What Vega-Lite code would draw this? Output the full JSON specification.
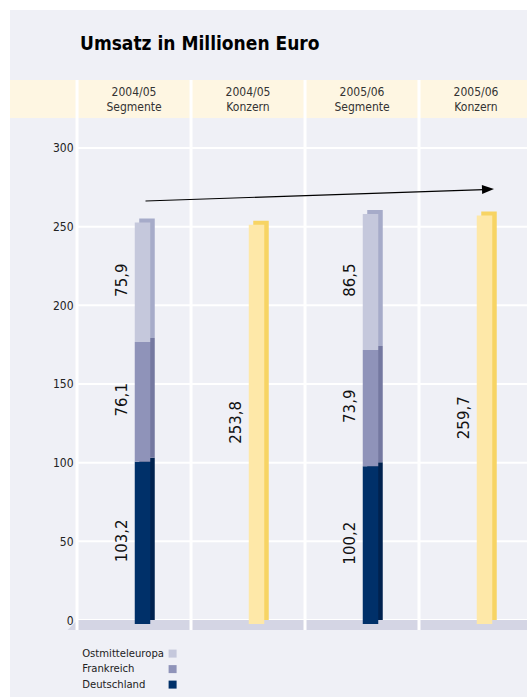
{
  "$schema": "https://vega.github.io/schema/vega-lite/v6.json",
  "autosize": {"type": "none"},
  "padding": {"left": 10, "top": 10, "right": 0, "bottom": 0},
  "width": 523,
  "height": 687,
  "background": "white",
  "config": {
    "view": {"fill": "#eff0f6", "stroke": null},
    "locale": {"number": {"decimal": ",", "thousands": ".", "grouping": [3], "currency": ["", " €"]}}
  },
  "title": {
    "text": "Umsatz in Millionen Euro",
    "anchor": "start",
    "frame": "group",
    "orient": "top",
    "offset": -59,
    "dx": 70,
    "baseline": "alphabetic",
    "font": "DejaVu Sans Condensed, Liberation Sans, sans-serif",
    "fontSize": 19,
    "fontWeight": "bold",
    "color": "#000000"
  },
  "datasets": {
    "cols": [
      {"col": "2004/05 Segmente"},
      {"col": "2004/05 Konzern"},
      {"col": "2005/06 Segmente"},
      {"col": "2005/06 Konzern"}
    ],
    "grid": [{"v": 0}, {"v": 50}, {"v": 100}, {"v": 150}, {"v": 200}, {"v": 250}, {"v": 300}],
    "sales": [
      {"col": "2004/05 Segmente", "region": "Deutschland", "order": 1, "value": 103.2},
      {"col": "2004/05 Segmente", "region": "Frankreich", "order": 2, "value": 76.1},
      {"col": "2004/05 Segmente", "region": "Ostmitteleuropa", "order": 3, "value": 75.9},
      {"col": "2004/05 Konzern", "region": "Konzern", "order": 1, "value": 253.8},
      {"col": "2005/06 Segmente", "region": "Deutschland", "order": 1, "value": 100.2},
      {"col": "2005/06 Segmente", "region": "Frankreich", "order": 2, "value": 73.9},
      {"col": "2005/06 Segmente", "region": "Ostmitteleuropa", "order": 3, "value": 86.5},
      {"col": "2005/06 Konzern", "region": "Konzern", "order": 1, "value": 259.7}
    ]
  },
  "encoding": {
    "x": {
      "field": "col",
      "type": "nominal",
      "sort": ["2004/05 Segmente", "2004/05 Konzern", "2005/06 Segmente", "2005/06 Konzern"],
      "scale": {"domain": ["2004/05 Segmente", "2004/05 Konzern", "2005/06 Segmente", "2005/06 Konzern"], "paddingInner": 0, "paddingOuter": 0.2939, "align": 1},
      "axis": {
        "orient": "top",
        "title": null,
        "offset": -108,
        "zindex": 2,
        "domain": false,
        "ticks": false,
        "tickSize": 0,
        "labelAngle": 0,
        "labelPadding": 23,
        "labelBaseline": "alphabetic",
        "labelLineHeight": 15,
        "labelFont": "DejaVu Sans Condensed, Liberation Sans, sans-serif",
        "labelFontSize": 12,
        "labelColor": "#333333",
        "labelExpr": "split(datum.label, ' ')"
      }
    }
  },
  "layer": [
    {
      "data": {"values": [{}]},
      "mark": {"type": "rect", "color": "#fef6e2"},
      "encoding": {
        "x": null,
        "y": {"datum": 319.07, "type": "quantitative", "scale": {"domain": [-48.94, 387.71], "zero": false, "nice": false}, "axis": {
          "orient": "left",
          "offset": -67,
          "title": null,
          "zindex": 2,
          "values": [0, 50, 100, 150, 200, 250, 300],
          "domain": false,
          "ticks": false,
          "tickSize": 0,
          "grid": false,
          "labelPadding": 4,
          "labelFont": "DejaVu Sans Condensed, Liberation Sans, sans-serif",
          "labelFontSize": 12,
          "labelColor": "#222222"
        }},
        "y2": {"datum": 343.22}
      }
    },
    {
      "data": {"name": "grid"},
      "mark": {"type": "rule", "color": "white", "strokeWidth": 2, "xOffset": -57, "x2Offset": 60},
      "encoding": {
        "x": {"datum": "2004/05 Segmente"},
        "x2": {"datum": "2005/06 Konzern"},
        "y": {"field": "v", "type": "quantitative"}
      }
    },
    {
      "data": {"name": "cols"},
      "mark": {"type": "bar", "color": "#d4d5e4", "width": {"band": 1}},
      "encoding": {
        "y": {"datum": 0, "type": "quantitative"},
        "y2": {"datum": -6.36}
      }
    },
    {
      "data": {"values": [{}]},
      "mark": {"type": "point", "shape": "M1,-1L1,1L-1,1Z", "filled": true, "color": "#d4d5e4", "opacity": 1, "size": 100, "xOffset": -61.5},
      "encoding": {
        "x": {"datum": "2004/05 Segmente"},
        "y": {"datum": -3.18, "type": "quantitative"}
      }
    },
    {
      "data": {"name": "cols"},
      "mark": {"type": "rule", "color": "white", "strokeWidth": 3},
      "encoding": {
        "x": {"field": "col", "type": "nominal", "bandPosition": 0},
        "y": {"datum": 343.22, "type": "quantitative"},
        "y2": {"datum": -6.36}
      }
    },
    {
      "data": {"name": "sales"},
      "mark": {"type": "bar", "width": 15.5, "xOffset": 13, "yOffset": 0},
      "encoding": {
        "y": {"field": "value", "type": "quantitative", "stack": "zero"},
        "order": {"field": "order", "type": "quantitative"},
        "fill": {"field": "region", "type": "nominal", "legend": null,
          "scale": {"domain": ["Deutschland", "Frankreich", "Ostmitteleuropa", "Konzern"], "range": ["#00224f", "#7478a0", "#a6abc9", "#f7d464"]}}
      }
    },
    {
      "data": {"name": "sales"},
      "mark": {"type": "bar", "width": 15.5, "xOffset": 8.5, "yOffset": 4},
      "encoding": {
        "y": {"field": "value", "type": "quantitative", "stack": "zero"},
        "order": {"field": "order", "type": "quantitative"},
        "color": {"field": "region", "type": "nominal",
          "scale": {"domain": ["Ostmitteleuropa", "Frankreich", "Deutschland", "Konzern"], "range": ["#c5c8dc", "#8f93b9", "#003069", "#fee8a8"]},
          "legend": {
            "values": ["Ostmitteleuropa", "Frankreich", "Deutschland"],
            "title": null,
            "orient": "none",
            "legendX": 157,
            "legendY": 638,
            "padding": 0,
            "symbolType": "square",
            "symbolSize": 64,
            "symbolStrokeWidth": 0,
            "labelFont": "DejaVu Sans Condensed, Liberation Sans, sans-serif",
            "labelFontSize": 11.2,
            "labelColor": "#222222",
            "labelAlign": "left",
            "labelOffset": -96,
            "rowPadding": 3.5
          }}
      }
    },
    {
      "data": {"name": "sales"},
      "transform": [
        {"stack": "value", "groupby": ["col"], "sort": [{"field": "order", "order": "ascending"}], "as": ["v0", "v1"]},
        {"fold": ["v0", "v1"], "as": ["k", "pos"]}
      ],
      "mark": {"type": "text", "angle": 270, "align": "center", "baseline": "middle", "xOffset": -12, "yOffset": 2, "font": "DejaVu Sans", "fontSize": 15, "color": "#111111"},
      "encoding": {
        "y": {"field": "pos", "type": "quantitative", "aggregate": "mean"},
        "text": {"field": "value", "type": "quantitative", "format": ".1f"}
      }
    },
    {
      "data": {"values": [{}]},
      "mark": {"type": "rule", "color": "black", "strokeWidth": 1.2, "xOffset": 11.5, "x2Offset": 8},
      "encoding": {
        "x": {"datum": "2004/05 Segmente"},
        "x2": {"datum": "2005/06 Konzern"},
        "y": {"datum": 266.3, "type": "quantitative"},
        "y2": {"datum": 273.6}
      }
    },
    {
      "data": {"values": [{}]},
      "mark": {"type": "point", "shape": "M-1,-0.75L1,0L-1,0.75Z", "filled": true, "color": "black", "size": 144, "angle": 358, "opacity": 1, "xOffset": 12},
      "encoding": {
        "x": {"datum": "2005/06 Konzern"},
        "y": {"datum": 273.8, "type": "quantitative"}
      }
    }
  ]
}
